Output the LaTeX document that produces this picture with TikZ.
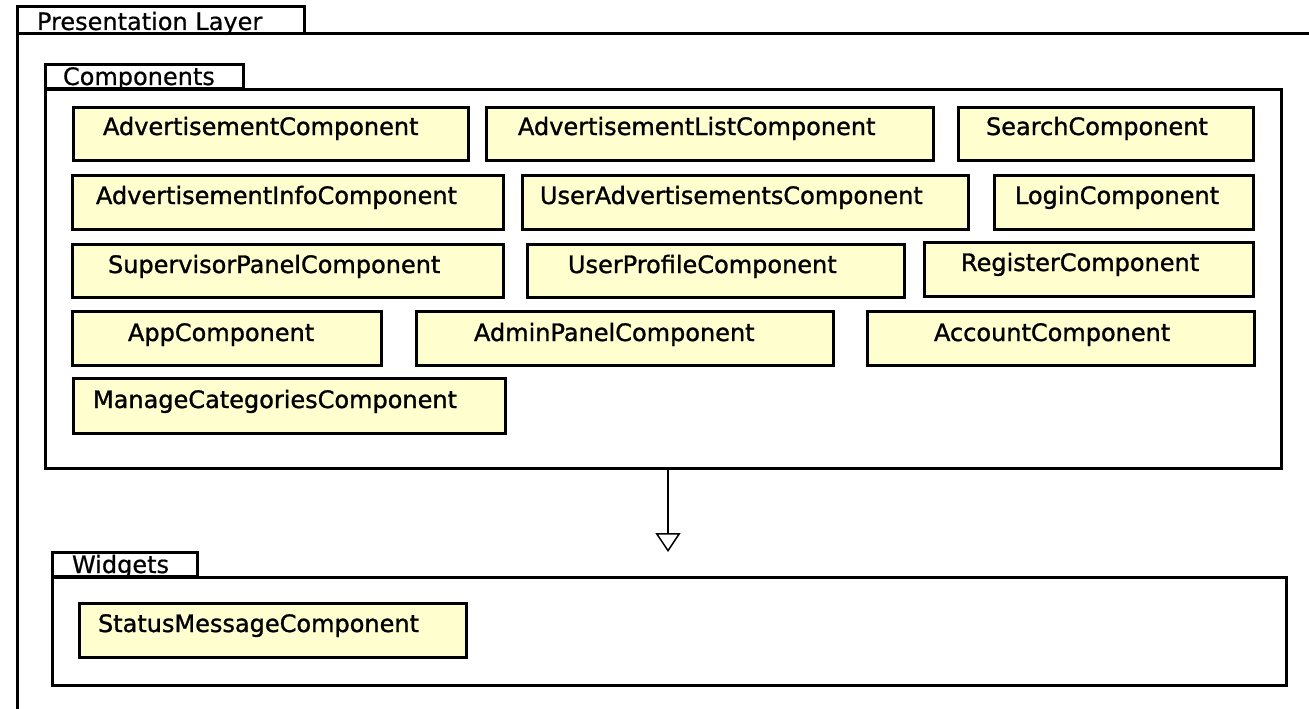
\documentclass[tikz,border=0pt]{standalone}
\usepackage{fontspec}
\setmainfont{DejaVu Sans}
\newfontfamily\lblfont[FakeBold=1.2]{DejaVu Sans}
\newfontfamily\tabfont[FakeBold=0.6]{DejaVu Sans}
\usetikzlibrary{arrows.meta}
\definecolor{compfill}{HTML}{FEFECE}
\tikzset{
  cbox/.style={draw=black, fill=compfill, line width=3pt, inner sep=0pt, outer sep=0pt},
  pkgbody/.style={draw=black, line width=3pt, inner sep=0pt, outer sep=0pt},
  pkgtab/.style={draw=black, line width=3pt, inner sep=0pt, outer sep=0pt},
  lbl/.style={anchor=base west, inner sep=0pt, outer sep=0pt, font=\lblfont\fontsize{24}{28}\selectfont},
  tablbl/.style={anchor=base west, inner sep=0pt, outer sep=0pt, font=\tabfont\fontsize{24}{28}\selectfont},
  frameline/.style={draw=black, line width=3pt},
  dep/.style={draw=black, line width=1.5pt, -{Triangle[open, length=19pt, width=25pt, line width=1.5pt]}}
}
% #1 style, #2 name, #3 x1, #4 y1, #5 x2, #6 y2 (outer extents, px)
\newcommand\rectnode[6]{%
  \node[#1, minimum width={(#5-#3-3)*1pt}, minimum height={(#6-#4-3)*1pt}] (#2) at ({(#3+#5)/2},{(#4+#6)/2}) {};}
% #1 name, #2..#5 box, #6 tx, #7 ty, #8 label
\newcommand\compbox[8]{%
  \rectnode{cbox}{#1}{#2}{#3}{#4}{#5}%
  \node[lbl] (#1-t) at (#6,#7) {#8};}
\begin{document}
\begin{tikzpicture}[x=1pt,y=-1pt]
\useasboundingbox (0,0) rectangle (1309,709);
\fill[white] (0,0) rectangle (1309,709);
% Presentation Layer frame
\coordinate (pl-bl) at (17,709);
\coordinate (pl-tl) at (17,7);
\coordinate (pl-tr) at (304,7);
\coordinate (pl-tb) at (304,34);
\coordinate (pl-ml) at (17,34);
\coordinate (pl-mr) at (1309,34);
\draw[frameline] (pl-bl) -- (pl-tl) -- (pl-tr) -- (pl-tb);
\draw[frameline] (pl-ml) -- (pl-mr);
\node[tablbl] (pl-t) at (37,30) {Presentation Layer};
% Components package
\rectnode{pkgtab}{comptab}{44}{63}{245}{90}
\rectnode{pkgbody}{components}{44}{88}{1283}{470}
\node[tablbl] (comptab-t) at (63,85) {Components};
% Widgets package
\rectnode{pkgtab}{widtab}{51}{551}{199}{578}
\rectnode{pkgbody}{widgets}{51}{576}{1288}{687}
\node[tablbl] (widtab-t) at (72,573) {Widgets};
% row 1
\compbox{adv}{72}{106}{470}{162}{103}{135}{AdvertisementComponent}
\compbox{advlist}{485}{106}{935}{162}{518}{135}{AdvertisementListComponent}
\compbox{search}{957}{106}{1255}{162}{986}{135}{SearchComponent}
% row 2
\compbox{advinfo}{71}{174}{505}{231}{96}{204}{AdvertisementInfoComponent}
\compbox{useradv}{521}{174}{970}{231}{540}{204}{UserAdvertisementsComponent}
\compbox{login}{993}{174}{1255}{231}{1015}{204}{LoginComponent}
% row 3
\compbox{super}{71}{243}{505}{299}{108}{273}{SupervisorPanelComponent}
\compbox{profile}{526}{243}{906}{299}{568}{273}{UserProfileComponent}
\compbox{register}{923}{241}{1255}{298}{961}{271}{RegisterComponent}
% row 4
\compbox{app}{71}{310}{383}{367}{128}{341}{AppComponent}
\compbox{admin}{415}{310}{835}{367}{474}{341}{AdminPanelComponent}
\compbox{account}{866}{310}{1256}{367}{934}{341}{AccountComponent}
% row 5
\compbox{manage}{72}{377}{507}{435}{93}{408}{ManageCategoriesComponent}
% widgets content
\compbox{status}{78}{602}{468}{659}{98}{632}{StatusMessageComponent}
% dependency arrow
\coordinate (tip) at (668,552);
\draw[dep] (components.south -| tip) -- (tip);
\end{tikzpicture}
\end{document}
